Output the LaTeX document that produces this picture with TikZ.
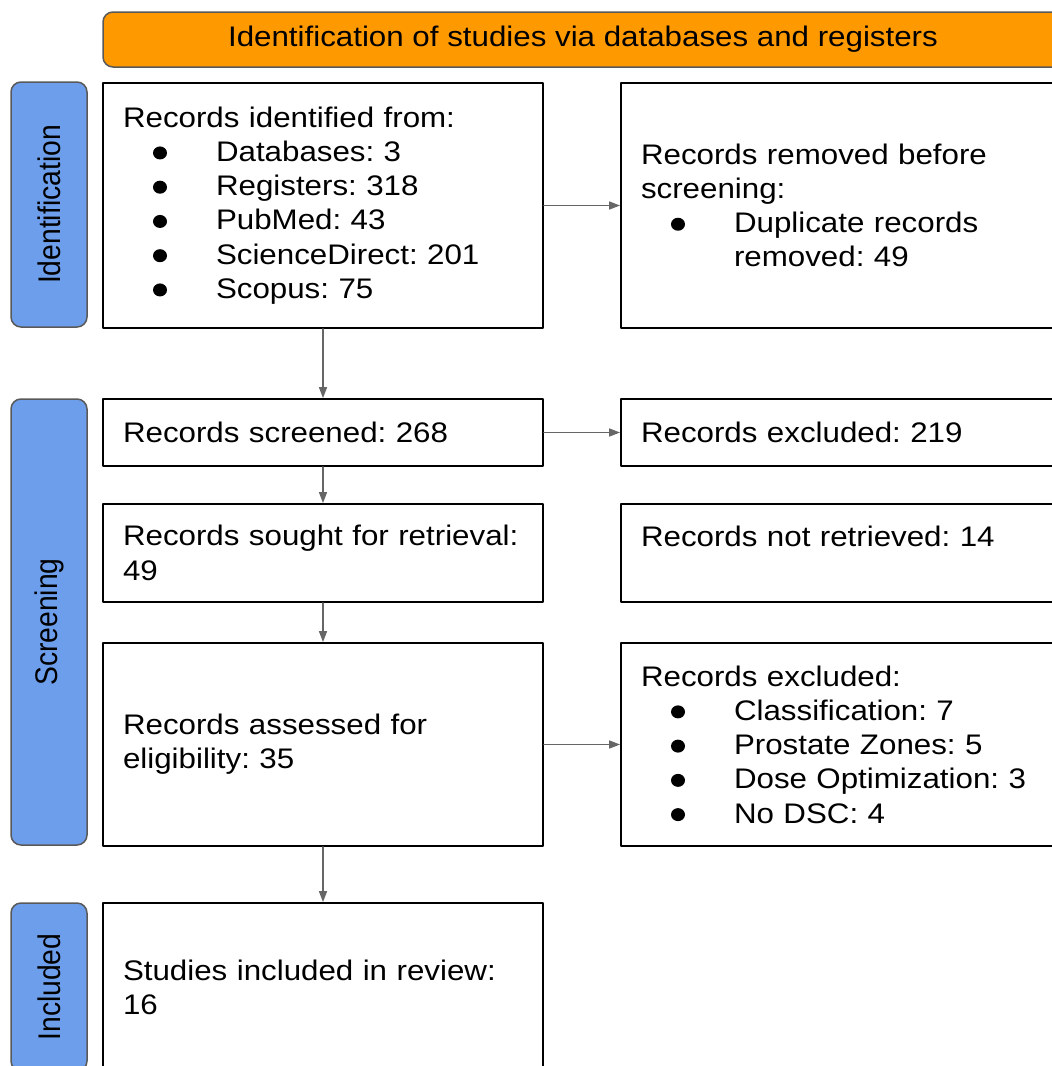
\documentclass[tikz,border=0pt]{standalone}
\usepackage{fontspec}
\setmainfont[FakeStretch=1.106]{Liberation Sans}
\newfontfamily\barfont[FakeStretch=0.904]{Liberation Sans}
\usetikzlibrary{arrows.meta}
\definecolor{prismaorange}{HTML}{FF9900}
\definecolor{prismablue}{HTML}{6D9EEB}
\definecolor{edgegrey}{HTML}{595959}
\definecolor{flowgrey}{HTML}{666666}
\frenchspacing
\newcommand{\bulmark}{\tikz[x=1pt,y=1pt,baseline=0pt]\fill[black] (7,8.5) ellipse (7pt and 6.5pt);}
\newcommand{\bitem}[1]{\par\noindent\hangindent=93pt\hangafter=1%
  \makebox[93pt][l]{\hspace{30pt}\bulmark}#1\par}

\begin{document}
\begin{tikzpicture}[x=1pt, y=-1pt, line cap=round, line join=round, >={Triangle[length=11pt,width=8pt]}]
\tikzset{box/.style={draw=black, line width=1.8pt, fill=white, minimum width=440pt, text width=400pt,
    inner xsep=20pt, inner ysep=0pt, align=left, font=\frenchspacing\fontsize{28.3}{34.25}\selectfont},
  bar/.style={draw=edgegrey, line width=1.5pt, fill=prismablue, rounded corners=10pt, rotate=90,
    minimum height=76pt, inner sep=0pt, font=\barfont\fontsize{31.3}{34}\selectfont},
  flow/.style={->, draw=flowgrey, line width=1.5pt}}

\useasboundingbox (0,0) rectangle (1052,1066);
\clip (0,0) rectangle (1052,1066);

% centres (px)
\coordinate (C0) at (583,39.5);
\coordinate (L1) at (323,205.5);
\coordinate (L2) at (323,432.5);
\coordinate (L3) at (323,553);
\coordinate (L4) at (323,744.5);
\coordinate (L5) at (323,987);
\coordinate (R1) at (841,205.5);
\coordinate (R2) at (841,432.5);
\coordinate (R3) at (841,553);
\coordinate (R4) at (841,744.5);

% banner
\node[draw=edgegrey, line width=1.5pt, fill=prismaorange, rounded corners=10pt, minimum width=960pt,
  minimum height=55pt, inner sep=0pt, font=\fontsize{28.3}{34}\selectfont] (banner) at (C0)
  {Identification of studies via databases and registers};

% phase bars
\node[bar, minimum width=245pt] (barid) at (49,204.5) {Identification};
\node[bar, minimum width=446pt] (barscr) at (49,622) {Screening};
\node[bar, minimum width=168pt] (barinc) at (49,987) {Included};

% left column
\node[box, minimum height=245pt] (recid) at (L1) {Records identified from:
  \bitem{Databases: 3}
  \bitem{Registers: 318}
  \bitem{PubMed: 43}
  \bitem{ScienceDirect: 201}
  \bitem{Scopus: 75}};
\node[box, minimum height=67pt] (recscr) at (L2) {Records screened: 268};
\node[box, minimum height=98pt] (recseek) at (L3) {Records sought for retrieval:\\49};
\node[box, minimum height=203pt] (recass) at (L4) {Records assessed for\\eligibility: 35};
\node[box, minimum height=168pt] (studinc) at (L5) {Studies included in review:\\16};

% right column
\node[box, minimum height=245pt] (recrem) at (R1) {Records removed before\\screening:
  \bitem{Duplicate records\newline removed: 49}};
\node[box, minimum height=67pt] (recexc) at (R2) {Records excluded: 219};
\node[box, minimum height=98pt] (recnot) at (R3) {Records not retrieved: 14\\\mbox{}};
\node[box, minimum height=203pt] (recrsn) at (R4) {Records excluded:
  \bitem{Classification: 7}
  \bitem{Prostate Zones: 5}
  \bitem{Dose Optimization: 3}
  \bitem{No DSC: 4}};

% arrows
\foreach \a/\b in {recid/recscr, recscr/recseek, recseek/recass, recass/studinc}
  \draw[flow] (\a.south) -- (\b.north);
\foreach \a/\b in {recid/recrem, recscr/recexc, recass/recrsn}
  \draw[flow] (\a.east) -- (\b.west);
\end{tikzpicture}
\end{document}
